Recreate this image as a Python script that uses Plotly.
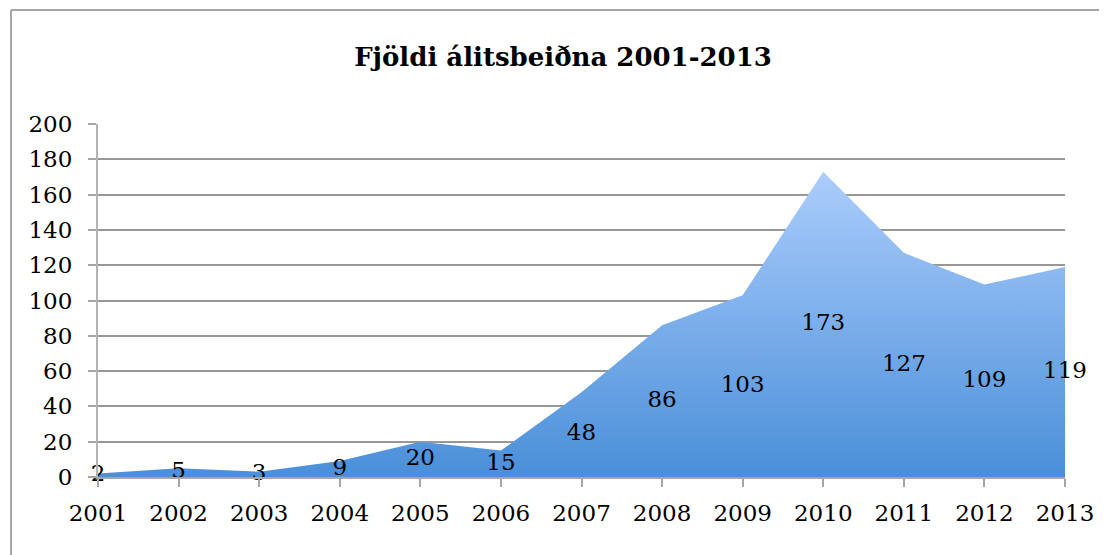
import plotly.graph_objects as go

years = [2001, 2002, 2003, 2004, 2005, 2006, 2007, 2008, 2009, 2010, 2011, 2012, 2013]
counts = [2, 5, 3, 9, 20, 15, 48, 86, 103, 173, 127, 109, 119]
title_text = "Fjöldi álitsbeiðna 2001-2013"
y_ticks = list(range(0, 201, 20))

FONT = "DejaVu Serif"
W, H = 1107, 555
OFF = 8  # page body margin offset
# target screen positions of the plot area
SL, SR, ST, SB = 98, 1065, 124, 477
L = SL - OFF
T = ST - OFF
R = W - (SR - OFF)
B = H - (SB - OFF)

fig = go.Figure()
fig.add_trace(go.Scatter(
    x=years, y=counts, mode="none", fill="tozeroy",
    fillgradient=dict(type="vertical",
                      colorscale=[[0, "#4a8fd8"], [1, "#abcdfc"]]),
    hoverinfo="skip", showlegend=False,
))
fig.add_trace(go.Scatter(
    x=years, y=[c / 2 for c in counts], mode="text",
    text=[str(c) for c in counts],
    textfont=dict(family=FONT, size=23, color="#000000"),
    cliponaxis=False, showlegend=False,
))

pw = W - L - R
ph = H - T - B
def px_x(sx):
    return (sx - OFF - L) / pw
def px_y(sy):
    return (H - B - (sy - OFF)) / ph

fig.update_layout(
    width=W, height=H,
    margin=dict(l=L, r=R, t=T, b=B, pad=0),
    paper_bgcolor="white", plot_bgcolor="white",
    font=dict(family=FONT, size=23, color="#000000"),
    title=dict(text="<b>" + title_text + "</b>", x=px_x(563), xref="paper",
               xanchor="center", y=1 - (57 - OFF) / H, yanchor="middle",
               font=dict(family=FONT, size=26, color="#000000")),
    xaxis=dict(range=[years[0], years[-1]], tickvals=years,
               ticktext=[str(y) for y in years],
               showgrid=False, zeroline=False,
               showline=True, linecolor="#a6a6a6", linewidth=2,
               ticks="outside", ticklen=8, tickwidth=2, tickcolor="#a6a6a6",
               ticklabelstandoff=6,
               tickfont=dict(family=FONT, size=23)),
    yaxis=dict(range=[0, 200], tickvals=y_ticks,
               showgrid=True, gridcolor="#979797", gridwidth=2,
               zeroline=False,
               showline=True, linecolor="#b3b3b3", linewidth=2,
               ticks="outside", ticklen=8, tickwidth=2, tickcolor="#a6a6a6",
               ticklabelstandoff=11,
               tickfont=dict(family=FONT, size=23)),
    shapes=[
        dict(type="line", xref="paper", yref="paper",
             x0=px_x(11), x1=px_x(W + 20), y0=px_y(10), y1=px_y(10),
             line=dict(color="#a6a6a6", width=2)),
        dict(type="line", xref="paper", yref="paper",
             x0=px_x(11), x1=px_x(11), y0=px_y(10), y1=px_y(H + 20),
             line=dict(color="#a6a6a6", width=2)),
    ],
)

fig.write_html("out.html")
